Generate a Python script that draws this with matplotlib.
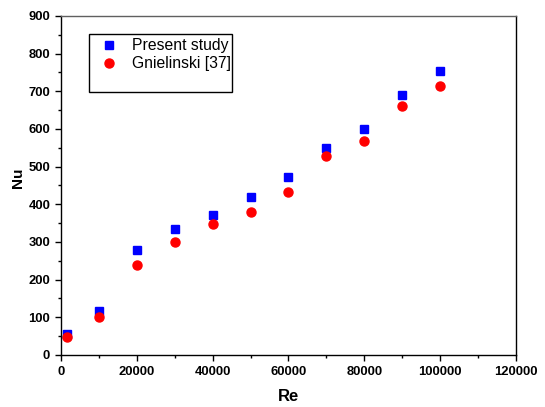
import matplotlib
matplotlib.use("Agg")
import matplotlib.pyplot as plt
from matplotlib.ticker import MultipleLocator
from matplotlib.patches import Rectangle

re_vals = [1500, 10000, 20000, 30000, 40000, 50000, 60000, 70000, 80000, 90000, 100000]
nu_present = [55, 117, 278, 335, 372, 420, 473, 550, 600, 690, 754]
nu_gnielinski = [48, 100, 240, 300, 347, 380, 432, 527, 568, 660, 715]

plt.rcParams['font.family'] = ['Liberation Sans', 'DejaVu Sans']

fig = plt.figure(figsize=(5.45, 4.07), dpi=100)
ax = fig.add_axes([0.1119, 0.1278, 0.8349, 0.8329])

ax.plot(re_vals, nu_present, 's', color='#0000ff', markersize=6.0, label='Present study')
ax.plot(re_vals, nu_gnielinski, 'o', color='#ff0000', markersize=6.5, label='Gnielinski [37]')

ax.set_xlim(0, 120000)
ax.set_ylim(0, 900)
ax.xaxis.set_major_locator(MultipleLocator(20000))
ax.xaxis.set_minor_locator(MultipleLocator(10000))
ax.yaxis.set_major_locator(MultipleLocator(100))
ax.yaxis.set_minor_locator(MultipleLocator(50))
ax.tick_params(which='major', direction='out', length=4.3, width=1, labelsize=9.4)
ax.tick_params(which='minor', direction='out', length=2.4, width=1)
for lab in ax.get_xticklabels() + ax.get_yticklabels():
    lab.set_fontweight('bold')
for sp in ax.spines.values():
    sp.set_linewidth(1)
ax.spines['top'].set_color('#606060')

ax.set_xlabel('Re', fontsize=12, fontweight='bold', labelpad=8)
ax.set_ylabel('Nu', fontsize=11, fontweight='bold')
ax.yaxis.set_label_coords(-0.078, 0.522)

# legend frame drawn by hand (it is taller than the entries need)
ax.add_patch(Rectangle((0.0615, 0.7758), 0.3143, 0.1711, transform=ax.transAxes,
                       facecolor='white', edgecolor='black', linewidth=1, zorder=4))
leg = ax.legend(loc='upper left', bbox_to_anchor=(0.057, 0.976), fontsize=11.3,
                frameon=False, borderpad=0.4, labelspacing=0.2,
                handletextpad=0.965, handlelength=1.0)
leg.set_zorder(5)

fig.savefig('out.png', dpi=100)
